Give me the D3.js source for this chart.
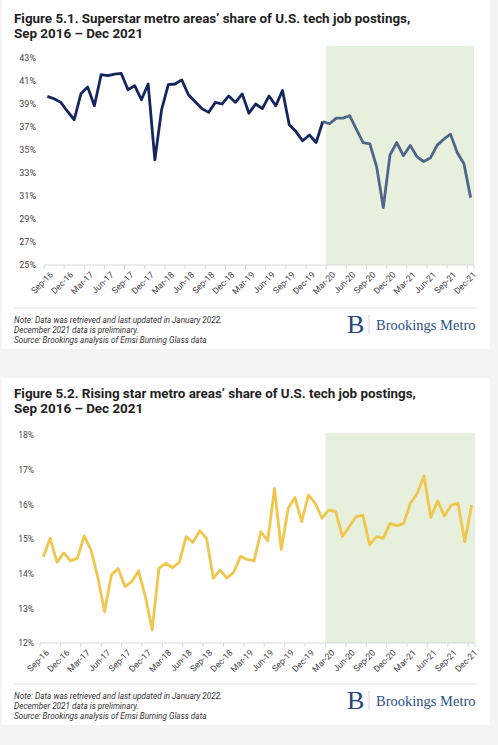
<!DOCTYPE html>
<html>
<head>
<meta charset="utf-8">
<script src="https://cdn.jsdelivr.net/npm/d3@7"></script>
<style>
  html, body { margin: 0; padding: 0; background: #f4f4f4; }
  svg { display: block; }
</style>
</head>
<body>
<svg id="chart" width="498" height="745"></svg>
<script>
// ---------- DATA ----------
const months = ["Sep-16","Oct-16","Nov-16","Dec-16","Jan-17","Feb-17","Mar-17","Apr-17","May-17","Jun-17","Jul-17","Aug-17",
  "Sep-17","Oct-17","Nov-17","Dec-17","Jan-18","Feb-18","Mar-18","Apr-18","May-18","Jun-18","Jul-18","Aug-18",
  "Sep-18","Oct-18","Nov-18","Dec-18","Jan-19","Feb-19","Mar-19","Apr-19","May-19","Jun-19","Jul-19","Aug-19",
  "Sep-19","Oct-19","Nov-19","Dec-19","Jan-20","Feb-20","Mar-20","Apr-20","May-20","Jun-20","Jul-20","Aug-20",
  "Sep-20","Oct-20","Nov-20","Dec-20","Jan-21","Feb-21","Mar-21","Apr-21","May-21","Jun-21","Jul-21","Aug-21",
  "Sep-21","Oct-21","Nov-21","Dec-21"];

const superstarShare = [39.66,39.46,39.14,38.35,37.63,39.9,40.47,38.85,41.55,41.46,41.6,41.66,
  40.24,40.6,39.37,40.74,34.14,38.5,40.68,40.74,41.1,39.8,39.2,38.6,
  38.27,39.14,39.0,39.7,39.14,39.88,38.2,39.0,38.6,39.7,38.85,40.18,
  37.2,36.6,35.8,36.3,35.65,37.48,37.28,37.77,37.77,37.98,36.8,35.65,
  35.54,33.56,30.0,34.58,35.65,34.5,35.4,34.43,34.0,34.3,35.4,35.94,
  36.38,34.78,33.8,30.86];

const risingShare = [14.49,15.02,14.33,14.6,14.37,14.44,15.09,14.68,13.9,12.9,13.96,14.15,
  13.63,13.77,14.08,13.34,12.38,14.15,14.3,14.17,14.33,15.07,14.9,15.24,
  15.02,13.87,14.1,13.87,14.04,14.5,14.41,14.37,15.21,14.95,16.46,14.7,
  15.88,16.2,15.5,16.27,16.03,15.6,15.84,15.79,15.07,15.36,15.64,15.69,
  14.83,15.07,15.02,15.45,15.38,15.45,16.03,16.32,16.82,15.62,16.1,15.66,
  15.98,16.03,14.92,15.98];

const tickLabels = ["Sep-16","Dec-16","Mar-17","Jun-17","Sep-17","Dec-17","Mar-18","Jun-18","Sep-18","Dec-18",
  "Mar-19","Jun-19","Sep-19","Dec-19","Mar-20","Jun-20","Sep-20","Dec-20","Mar-21","Jun-21","Sep-21","Dec-21"];

const yTicks1 = [25,27,29,31,33,35,37,39,41,43];
const yTicks2 = [12,13,14,15,16,17,18];

const pandemicStart = "Mar-20";
const noteLines = ["Note: Data was retrieved and last updated in January 2022.",
  "December 2021 data is preliminary.",
  "Source: Brookings analysis of Emsi Burning Glass data"];

const titles1 = ["Figure 5.1. Superstar metro areas\u2019 share of U.S. tech job postings,", "Sep 2016 \u2013 Dec 2021"];
const titles2 = ["Figure 5.2. Rising star metro areas\u2019 share of U.S. tech job postings,", "Sep 2016 \u2013 Dec 2021"];

// ---------- DRAW ----------
const svg = d3.select("#chart");
const FONT = "Roboto, 'Noto Sans', sans-serif";

function panel(cfg) {
  const g = svg.append("g");
  g.append("rect").attr("x", 2).attr("y", cfg.panelTop).attr("width", 488)
    .attr("height", cfg.panelBottom - cfg.panelTop).attr("fill", "#ffffff");

  cfg.titles.forEach((t, i) => {
    g.append("text").attr("x", 14).attr("y", cfg.titleY + i * 15.5)
      .attr("font-family", FONT).attr("font-weight", 700).attr("font-size", 13.4)
      .attr("fill", "#222").text(t);
  });

  const x = d3.scaleBand().domain(months).range([cfg.x0, cfg.x1]);
  const cx = m => x(m) + x.bandwidth() / 2;
  const y = d3.scaleLinear().domain(cfg.yDomain).range([cfg.yBottom, cfg.yTop]);

  // shaded pandemic region
  g.append("rect").attr("x", x(pandemicStart)).attr("y", cfg.shadeTop)
    .attr("width", cfg.x1 - x(pandemicStart)).attr("height", cfg.yBottom - cfg.shadeTop)
    .attr("fill", "#e6f0dd");

  // y axis labels
  const ya = g.append("g").attr("transform", `translate(${cfg.yLabelX},0)`)
    .call(d3.axisLeft(y).tickValues(cfg.yTicks).tickSize(0).tickPadding(0).tickFormat(d => d + "%"));
  ya.select(".domain").remove();
  ya.selectAll("text").attr("font-family", FONT).attr("font-size", cfg.yFont).attr("fill", "#444");

  // x axis
  const xa = g.append("g").attr("transform", `translate(0,${cfg.yBottom})`);
  xa.append("line").attr("x1", cfg.x0).attr("x2", cfg.x1).attr("y1", 0).attr("y2", 0)
    .attr("stroke", "#d9d9d9").attr("stroke-width", 1);
  const tickPos = tickLabels.map(m => x(m)).concat([cfg.x1]);
  xa.selectAll("line.tk").data(tickPos).enter().append("line").attr("class", "tk")
    .attr("x1", d => d).attr("x2", d => d).attr("y1", 0).attr("y2", 4)
    .attr("stroke", "#d9d9d9").attr("stroke-width", 1);
  xa.selectAll("text").data(tickLabels).enter().append("text")
    .attr("transform", m => `translate(${cx(m) + 2},${6}) rotate(-45)`)
    .attr("text-anchor", "end").attr("dy", "0.7em")
    .attr("font-family", FONT).attr("font-size", 8.7).attr("fill", "#444").text(m => m);

  // line
  const line = d3.line().x(d => cx(d.m)).y(d => y(d.v));
  const pts = months.map((m, i) => ({ m, v: cfg.values[i] }));
  const splitIdx = months.indexOf(pandemicStart) - 1;
  if (cfg.colorAfter) {
    g.append("path").datum(pts.slice(0, splitIdx + 1)).attr("d", line)
      .attr("fill", "none").attr("stroke", cfg.color).attr("stroke-width", 2.8).attr("stroke-linejoin", "round");
    g.append("path").datum(pts.slice(splitIdx)).attr("d", line)
      .attr("fill", "none").attr("stroke", cfg.colorAfter).attr("stroke-width", 2.8).attr("stroke-linejoin", "round");
  } else {
    g.append("path").datum(pts).attr("d", line)
      .attr("fill", "none").attr("stroke", cfg.color).attr("stroke-width", 2.8).attr("stroke-linejoin", "round");
  }

  // separator
  g.append("line").attr("x1", 14).attr("x2", 478).attr("y1", cfg.sepY).attr("y2", cfg.sepY)
    .attr("stroke", "#e3e3e3").attr("stroke-width", 1);

  // notes
  noteLines.forEach((t, i) => {
    g.append("text").attr("x", 14).attr("y", cfg.sepY + 15 + i * 9.8)
      .attr("font-family", FONT).attr("font-style", "italic").attr("font-size", 8.2)
      .attr("fill", "#333").text(t);
  });

  // logo
  const ly = cfg.sepY + 24;
  g.append("text").attr("x", 347).attr("y", ly + 1).attr("font-family", "'Liberation Serif', 'DejaVu Serif', serif")
    .attr("font-size", 26).attr("fill", "#1f4a7c").text("B");
  g.append("line").attr("x1", 369).attr("x2", 369).attr("y1", ly - 17).attr("y2", ly + 2)
    .attr("stroke", "#c8c8c8").attr("stroke-width", 0.8);
  g.append("text").attr("x", 376).attr("y", ly - 2).attr("font-family", "'Liberation Serif', 'DejaVu Serif', serif")
    .attr("font-size", 14.5).attr("fill", "#2b5285").text("Brookings Metro");
}

panel({
  panelTop: 0, panelBottom: 349, titles: titles1, titleY: 22.5,
  x0: 44, x1: 474, yDomain: [25, 43], yTop: 58, yBottom: 265, shadeTop: 46,
  yLabelX: 36, yTicks: yTicks1, yFont: 9, values: superstarShare,
  color: "#13265e", colorAfter: "#4d6689", sepY: 308
});

panel({
  panelTop: 378, panelBottom: 725, titles: titles2, titleY: 397.5,
  x0: 40, x1: 475, yDomain: [12, 18], yTop: 435, yBottom: 643, shadeTop: 433,
  yLabelX: 34, yTicks: yTicks2, yFont: 8.5, values: risingShare,
  color: "#f0c64c", colorAfter: null, sepY: 684
});
</script>
</body>
</html>
